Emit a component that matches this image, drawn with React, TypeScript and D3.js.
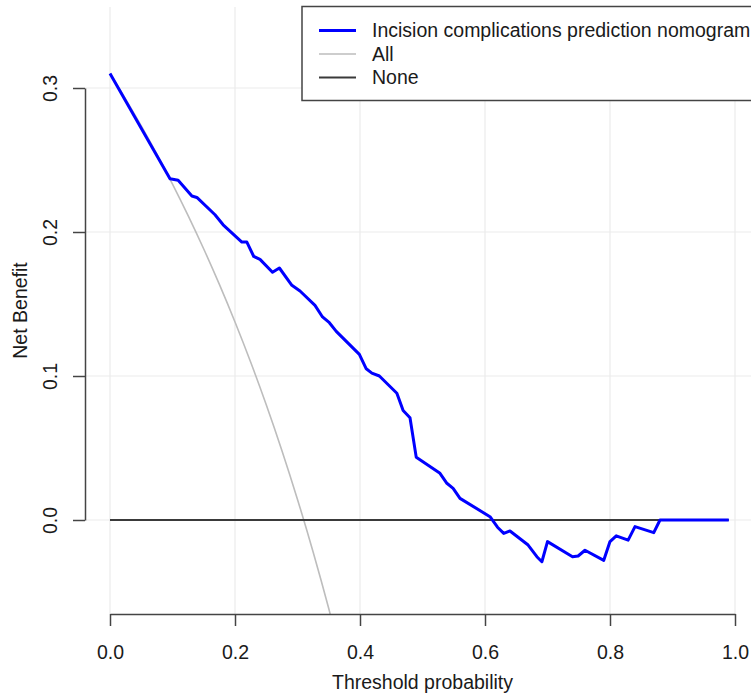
import React, { useRef, useEffect } from "react";
import { select, scaleLinear, line, axisBottom, axisLeft, curveMonotoneX } from "d3";

const WIDTH = 751;
const HEIGHT = 694;
const PLOT = { left: 85, right: 760, top: 7, bottom: 614 };
const FONT = "'Liberation Sans', Arial, Helvetica, sans-serif";
const FONT_SIZE = 19.5;

// threshold probability / net benefit
const modelT = [0, 0.096, 0.109, 0.131, 0.139, 0.168, 0.181, 0.211, 0.219, 0.23, 0.24, 0.26, 0.271, 0.291, 0.304, 0.328, 0.34, 0.351, 0.362, 0.399, 0.41, 0.419, 0.431, 0.459, 0.469, 0.48, 0.49, 0.528, 0.539, 0.549, 0.56, 0.608, 0.62, 0.63, 0.64, 0.669, 0.683, 0.691, 0.7, 0.74, 0.749, 0.76, 0.79, 0.8, 0.81, 0.829, 0.84, 0.87, 0.88, 0.99];
const modelNB = [0.31, 0.237, 0.236, 0.225, 0.224, 0.212, 0.205, 0.193, 0.193, 0.183, 0.181, 0.172, 0.175, 0.163, 0.159, 0.149, 0.141, 0.137, 0.131, 0.115, 0.105, 0.102, 0.1, 0.088, 0.076, 0.071, 0.0435, 0.0324, 0.0255, 0.022, 0.015, 0.0023, -0.005, -0.0093, -0.0076, -0.0174, -0.0255, -0.029, -0.015, -0.0255, -0.025, -0.021, -0.028, -0.015, -0.011, -0.014, -0.0046, -0.0088, 0, 0];

const allT = [0, 0.025, 0.05, 0.075, 0.1, 0.125, 0.15, 0.175, 0.2, 0.225, 0.25, 0.275, 0.3, 0.325, 0.35, 0.375];
const allNB = [0.31, 0.2923, 0.2737, 0.2541, 0.2333, 0.2114, 0.1882, 0.1636, 0.1375, 0.1097, 0.08, 0.0483, 0.0143, -0.0222, -0.0615, -0.104];

const noneT = [0, 0.99];
const noneNB = [0, 0];

const xTicks = [0, 0.2, 0.4, 0.6, 0.8, 1.0];
const yTicks = [0, 0.1, 0.2, 0.3];
const legendLabels = ["Incision complications prediction nomogram", "All", "None"];
const legendColors = ["#0000ff", "#bdbdbd", "#3a3a3a"];

const drawChart = (root: SVGSVGElement) => {
  const svg = select(root);
  svg.selectAll("*").remove();

  const x = scaleLinear().domain([0, 1]).range([110, 735]);
  const y = scaleLinear().domain([0, 0.3]).range([520, 88]);

  svg
    .append("defs")
    .append("clipPath")
    .attr("id", "plotClip")
    .append("rect")
    .attr("x", PLOT.left)
    .attr("y", PLOT.top)
    .attr("width", PLOT.right - PLOT.left)
    .attr("height", PLOT.bottom - PLOT.top);

  // grid
  const grid = svg.append("g").attr("stroke", "#ebebeb").attr("stroke-width", 1.2);
  grid
    .selectAll("line.v")
    .data(xTicks)
    .enter()
    .append("line")
    .attr("x1", (d) => x(d))
    .attr("x2", (d) => x(d))
    .attr("y1", PLOT.top)
    .attr("y2", PLOT.bottom);
  grid
    .selectAll("line.h")
    .data(yTicks)
    .enter()
    .append("line")
    .attr("x1", PLOT.left)
    .attr("x2", PLOT.right)
    .attr("y1", (d) => y(d))
    .attr("y2", (d) => y(d));

  const plot = svg.append("g").attr("clip-path", "url(#plotClip)");

  const path = (ts: number[], vs: number[], curve?: any) => {
    const l = line<number>()
      .x((d) => x(ts[d]))
      .y((d) => y(vs[d]));
    if (curve) l.curve(curve);
    return l(ts.map((_, i) => i));
  };

  plot
    .append("path")
    .attr("d", path(allT, allNB, curveMonotoneX))
    .attr("fill", "none")
    .attr("stroke", legendColors[1])
    .attr("stroke-width", 1.6);

  plot
    .append("path")
    .attr("d", path(noneT, noneNB))
    .attr("fill", "none")
    .attr("stroke", legendColors[2])
    .attr("stroke-width", 2);

  plot
    .append("path")
    .attr("d", path(modelT, modelNB))
    .attr("fill", "none")
    .attr("stroke", legendColors[0])
    .attr("stroke-width", 3)
    .attr("stroke-linejoin", "round");

  // x axis
  svg
    .append("g")
    .attr("transform", `translate(0,${PLOT.bottom})`)
    .call(axisBottom(x).tickValues(xTicks).tickFormat((d: any) => d.toFixed(1)).tickSize(12).tickSizeOuter(0))
    .call((g) => {
      g.attr("font-family", FONT).attr("font-size", FONT_SIZE);
      g.select(".domain").attr("stroke", "#444").attr("stroke-width", 1.5);
      g.selectAll(".tick line").attr("stroke", "#444").attr("stroke-width", 1.5);
      g.selectAll(".tick text").attr("fill", "#1a1a1a").attr("y", 38).attr("dy", "0.35em");
    });

  // y axis
  svg
    .append("g")
    .attr("transform", `translate(${PLOT.left},0)`)
    .call(axisLeft(y).tickValues(yTicks).tickFormat((d: any) => d.toFixed(1)).tickSize(12).tickSizeOuter(0))
    .call((g) => {
      g.attr("font-family", FONT).attr("font-size", FONT_SIZE);
      g.select(".domain").attr("stroke", "#444").attr("stroke-width", 1.5);
      g.selectAll(".tick line").attr("stroke", "#444").attr("stroke-width", 1.5);
      g.selectAll(".tick text")
        .attr("fill", "#1a1a1a")
        .attr("x", null)
        .attr("text-anchor", "middle")
        .attr("transform", "translate(-35,0) rotate(-90)")
        .attr("y", 0)
        .attr("dy", "0.35em");
    });

  // axis titles
  svg
    .append("text")
    .attr("x", (PLOT.left + PLOT.right) / 2)
    .attr("y", 682)
    .attr("dy", "0.35em")
    .attr("text-anchor", "middle")
    .attr("font-family", FONT)
    .attr("font-size", FONT_SIZE)
    .attr("fill", "#1a1a1a")
    .text("Threshold probability");

  svg
    .append("text")
    .attr("transform", `translate(20,${(PLOT.top + PLOT.bottom) / 2}) rotate(-90)`)
    .attr("dy", "0.35em")
    .attr("text-anchor", "middle")
    .attr("font-family", FONT)
    .attr("font-size", FONT_SIZE)
    .attr("fill", "#1a1a1a")
    .text("Net Benefit");

  // legend
  const legend = svg.append("g");
  legend
    .append("rect")
    .attr("x", 302)
    .attr("y", 6.5)
    .attr("width", 470)
    .attr("height", 94)
    .attr("fill", "#fff")
    .attr("stroke", "#444")
    .attr("stroke-width", 1.5);

  const rows = legend
    .selectAll("g.row")
    .data(legendLabels)
    .enter()
    .append("g")
    .attr("transform", (_, i) => `translate(0,${30.5 + i * 23.5})`);
  rows
    .append("line")
    .attr("x1", 319)
    .attr("x2", 356)
    .attr("stroke", (_, i) => legendColors[i])
    .attr("stroke-width", (_, i) => (i === 0 ? 3 : i === 1 ? 1.6 : 2));
  rows
    .append("text")
    .attr("x", 372)
    .attr("dy", "0.35em")
    .attr("font-family", FONT)
    .attr("font-size", FONT_SIZE)
    .attr("fill", "#1a1a1a")
    .text((d) => d);
};

export default function App() {
  const ref = useRef<SVGSVGElement>(null);
  useEffect(() => {
    if (ref.current) drawChart(ref.current);
  }, []);
  return (
    <svg
      ref={ref}
      width={WIDTH}
      height={HEIGHT}
      style={{ position: "absolute", left: 0, top: 0, background: "#fff" }}
    />
  );
}
